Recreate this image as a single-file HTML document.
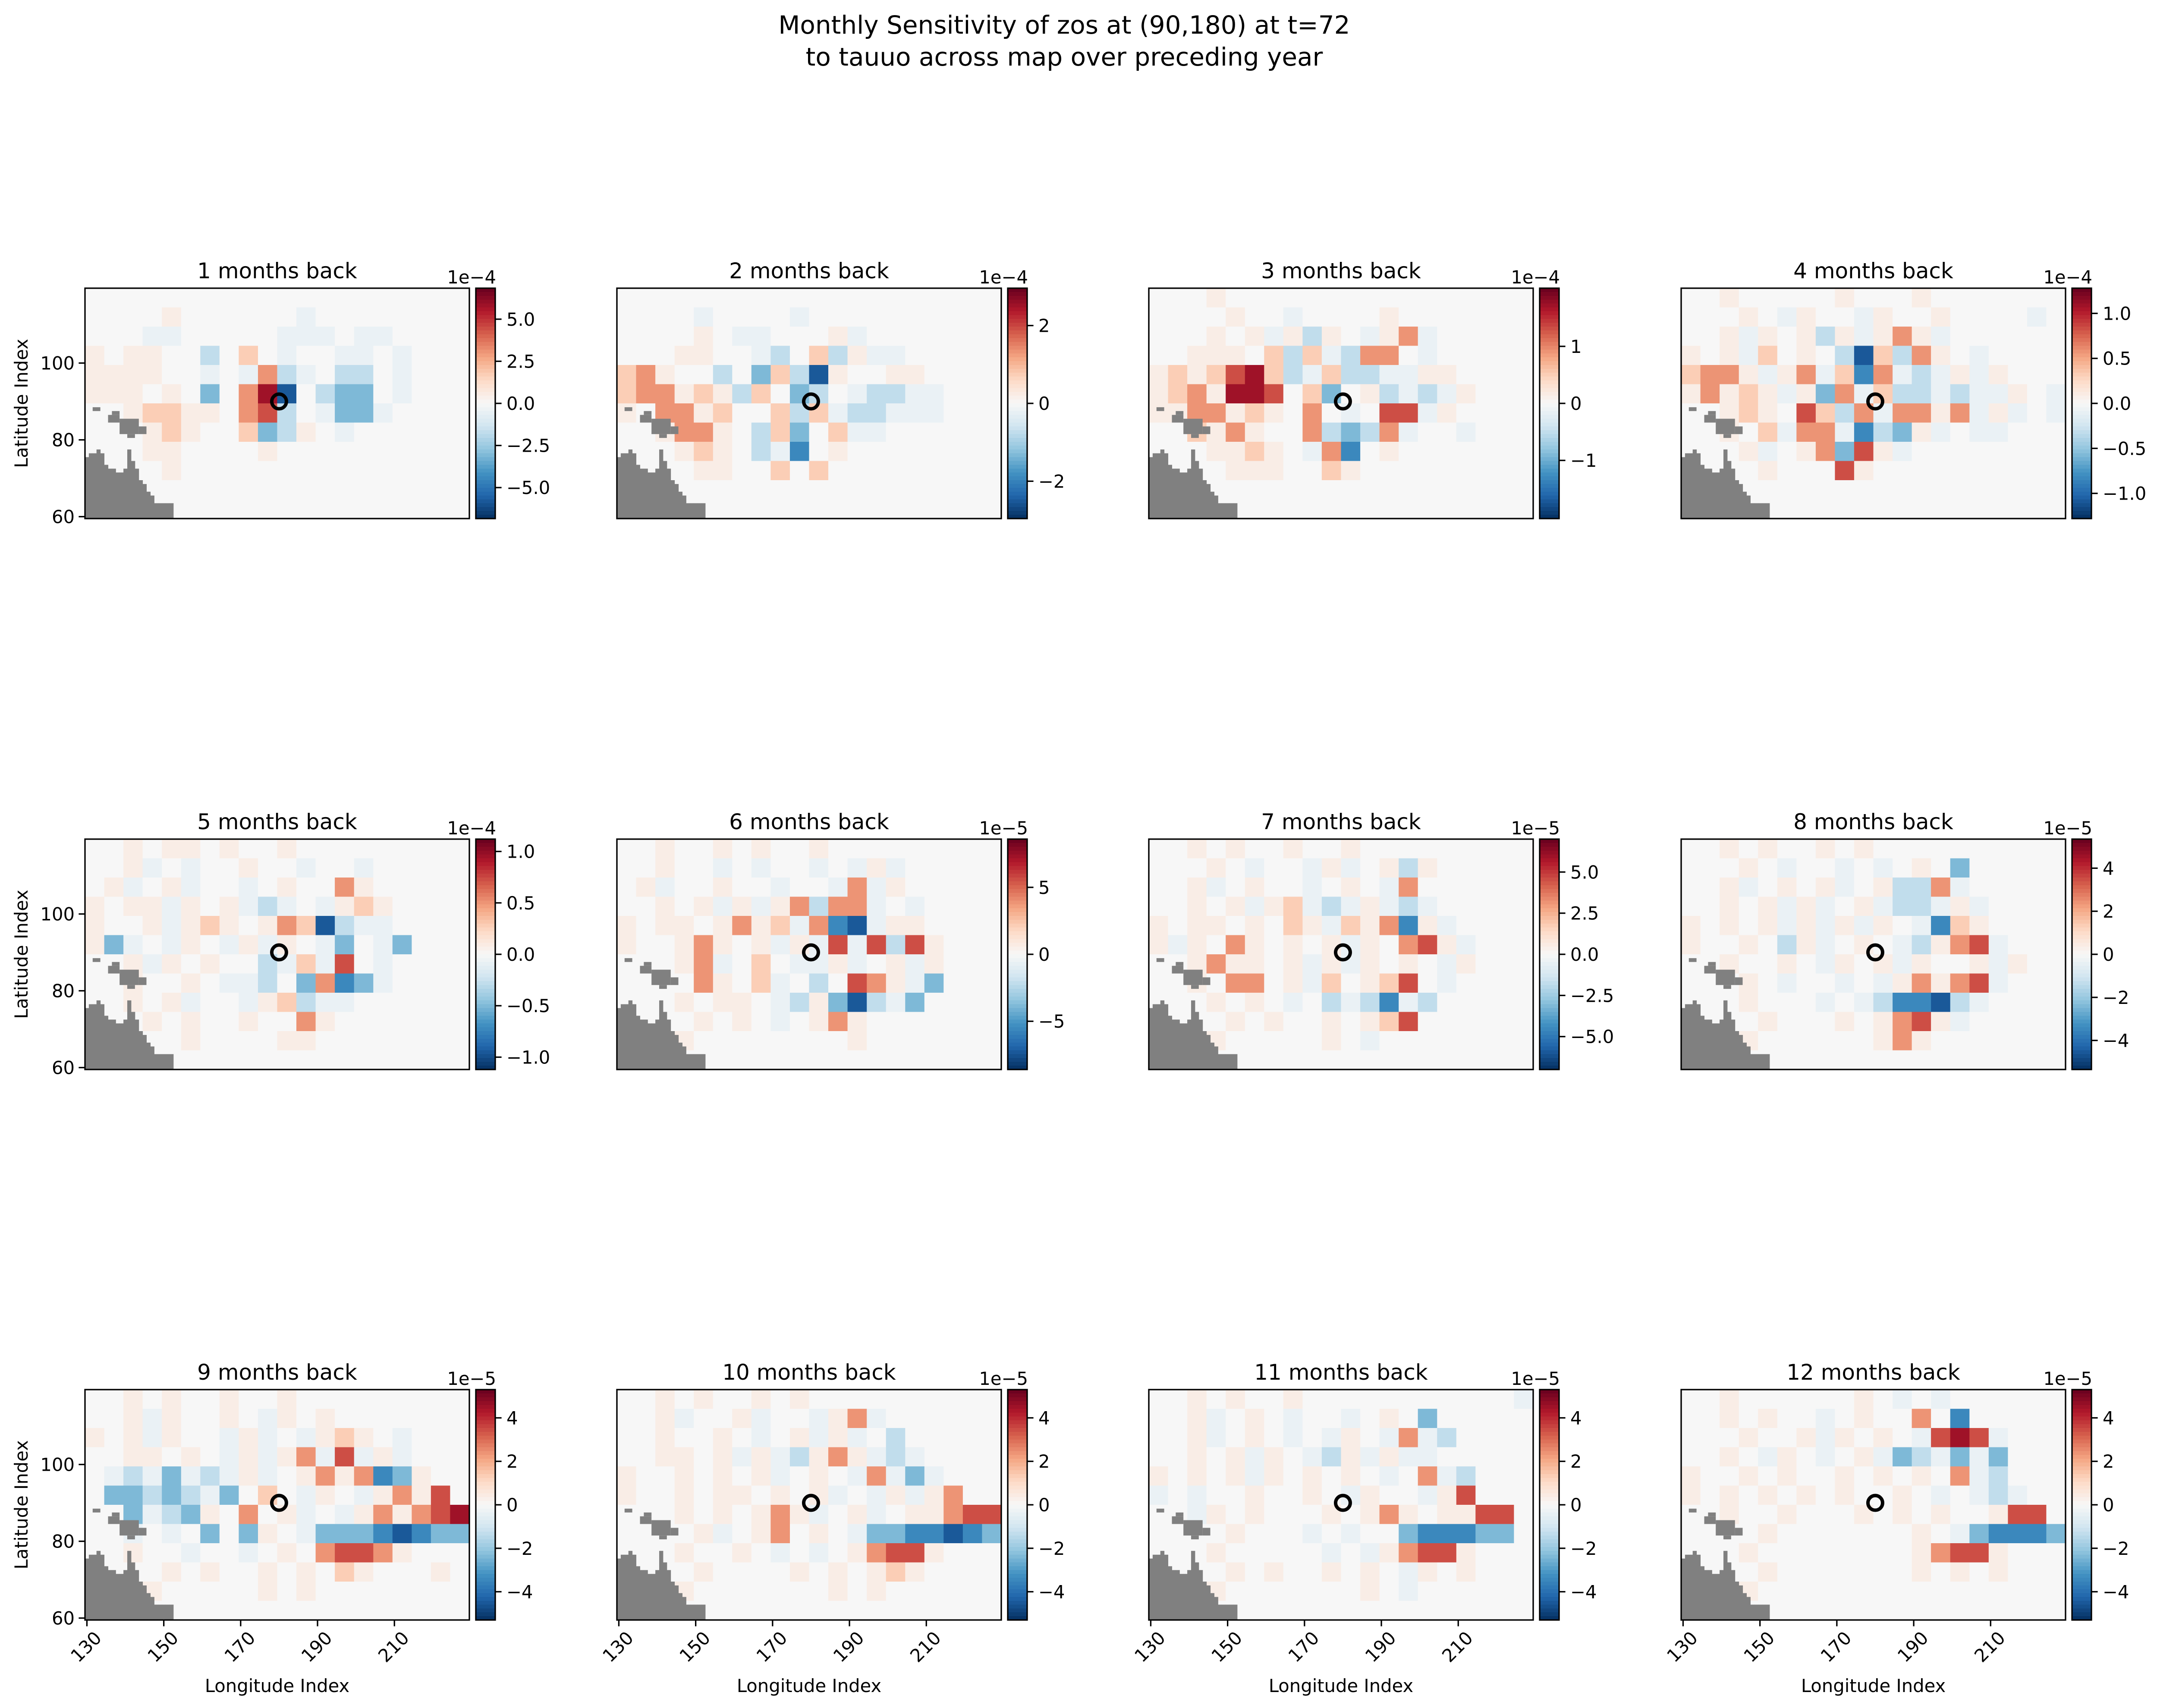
<!DOCTYPE html>
<html><head><meta charset="utf-8">
<style>
html,body{margin:0;padding:0;background:#fff;}
svg{display:block;font-family:"DejaVu Sans","Liberation Sans",sans-serif;}
</style></head>
<body>
<svg id="fig" xmlns="http://www.w3.org/2000/svg" width="5007" height="3959" viewBox="0 0 5007 3959">
<rect x="0" y="0" width="5007" height="3959" fill="#ffffff"/>
<text x="2467" y="78" font-size="58" text-anchor="middle">Monthly Sensitivity of zos at (90,180) at t=72</text>
<text x="2467" y="152" font-size="58" text-anchor="middle">to tauuo across map over preceding year</text>
<g id="panels"></g>
</svg>
<script>
// ---- data ----
const panelTitles = ["1 months back","2 months back","3 months back","4 months back","5 months back","6 months back","7 months back","8 months back","9 months back","10 months back","11 months back","12 months back"];
const panelVmax = [6.84,2.96,2.02,1.28,1.12,8.6,7.0,5.35,5.3,5.3,5.3,5.3];
const panelExponent = ["1e\u22124","1e\u22124","1e\u22124","1e\u22124","1e\u22124","1e\u22125","1e\u22125","1e\u22125","1e\u22125","1e\u22125","1e\u22125","1e\u22125"];
const cbarTicks = [
 [-5,-2.5,0,2.5,5],[-2,0,2],[-1,0,1],[-1,-0.5,0,0.5,1],
 [-1,-0.5,0,0.5,1],[-5,0,5],[-5,-2.5,0,2.5,5],[-4,-2,0,2,4],
 [-4,-2,0,2,4],[-4,-2,0,2,4],[-4,-2,0,2,4],[-4,-2,0,2,4]];
const cbarTickDecimals = [1,0,0,1,1,0,1,0,0,0,0,0];
const lonTicks = [130,150,170,190,210];
const latTicks = [60,80,100];
const targetPoint = [180,90];
// coarse field codes: 12 rows (lat 115..60 descending) x 20 cols (lon 130..225), 5x5 blocks
const codeValues = {"a":-0.85,"b":-0.65,"c":-0.45,"d":-0.25,"-":-0.07,".":0,"+":0.07,"1":0.25,"2":0.45,"3":0.65,"4":0.85};
const fields = [
["....................","....+......-........","...--.....---.--....","+.++..d.1.-..--.-...","++++..-.-2d-.dd.-...","+++.+.c.24a.dcc.-...","..+11++.23d.-cc-....","...+1+..1cd+.-......","...++....+..........","....+...............","....................","...................."],
["....................","....-....-..........","....+.--...+-.......","...++..-d.1d+--.....","12+..d.c1da+..++....","122+1+d1.cd.-dd--...","+.22+1..1d1-dd---...","..+22+.d1c.1--......","...+1+.d-b.+........","....++..1.1.........","....................","...................."],
["...+................","....+..-....+.......","...+.+-+d+.-+2-.....","..+++.1d1-d22.-.....","+1+1341d-1dd--++....","+12+443.1c.+d-d-+...","++22+1+.2.-.33-+....","..1+2+..2dcd2-..-...","...++1+.-2b.+.......","....+++..1+.........","....................","...................."],
["..+.....+...+.......","...+.-+..-+..+....-.","..+-+.+d+-+2+-......","+.+-1.+.da1d2+.-....","122+-+2-1b2-d-+-+...","+2+1+-+c2-1dd-d--+.-","..+1+.31d2-22+2-+-.-","..+.1-22-bdc+-.--...","...+-.+2c3+-........","....+...3+..........","....................","...................."],
["..+.++.+..+.........","..+-.-..+..-..-.....",".+-.+-..-.+..2+.....","+.++-+.+-d-.-+1+....","+..+-+1+.+21ad--....","+c-.-+.-+-+.-c.-c...","..+-+.+..d-1-3.-....","..+..+.--d.c2bc-....","..+.+-..-+1d--......","...+.+..+..2+.......","..+..+....++........","...................."],
["..+..+.+..+.........","..+..-.-..-.-+-.....",".+-..+..-..-2-+.....","..+.+-+-+2d22-.-....","+.++.+2+1-2ba-++....","+..+2+.+-+-3-3d3+...","...+2-.1.--+-.+-+...","....2+.1-.d.32+-c...","...+.++.-d+cad-c....","....+.+.-.+2+.......","...+........+.......","...................."],
["..+.+..+..+.........","...+.-..-+-.+d+.....","..+-.+..-.+.-2......","..+.+-+1-d-+-d-.....","+.++.+.1+-1+2b+-....","+-+.2+.+.+-+.23+-...","..+2++.+-+-+.+.-+...","..+.22.+-1.+13.-....","...+.+.-.d-db-d.....","....+.+..+.+13......","...+.....+.-........","...................."],
["..+.+..+.+..........","...+.-..-.-.+.c.....","..+-.+.+-.+dd2-.....","..+.+-+-.+-dd-+-....","+.+.+-+-+-+.-b1+....","+..+.d+-.+.-d+23-...","..+..+.-+.+-+..+-+..","...+.-..-.-+2+23-...","...+...-.-dbbad-....","....+...+.+23+-.....","...+......+2+.......","...................."],
["..+.+..+..+.........","..+-+..+.-+.+.......","+.+-+..-+-.-+1+.-...","..++.+.-+-+2-3-+-...",".-d-c-d-+-.+2+2bc+..",".ccdcd-c.1.-+.-+2+3.","..c-dc+.2.+-.-+2+234","..-.-.c.c+.-cccbabcc","..+..-..-.+.2332+...","....+.+..+.+.1+...+.","...+.....+.+........","...................."],
["..+.+..+.+..........","..+-..+-..-+2-......","..+..+.-.+-+-.d.....","..++.+-+-d+2+-d-....","+..+.+.+-.+.-2-c-...","+..+.++.+.+-.-+-+2..","...+.+.+2+-.+-.++233","....+-.+2.+.-ccbbabc","...+..+.-.-.+233+...","....+....+.+.+1+....","...+.......+.+......","...................."],
["..+.+..+...........-","..+-.+.-..-.+.c.....","..+-.+.-.-+.-2-d....","..+.+-+.-d+-+--.....","+.+.+-+.+.+.-.2-d...","-.-..+..+.-+..-+3...","..-+.+...+.+2+.++33.","....+...-.-..cbbbcc.","...+.....-.-+233+...","....+.+..+.+.-+.+...","...+.......+.-......","...................."],
["..+......+.-.-......","..+.+..-.+..2.b.....","...+..+-+.+.-343-...","..+.-+.-.+-cd-c-c...","+..+.+..+.+.+.2-d...","+.+.+.+.+..+.-.-d-..","..+..+...+.+.+..+33.","....+.......+.-cbbbc","...+........+233+...","....+.......+.+.+...","...+................","...................."]
];
// land mask: per-longitude top latitude of mainland (lat 60 upward), lon 130..152
const landLon = [130,131,132,133,134,135,136,137,138,139,140,141,142,143,144,145,146,147,148,149,150,151,152];
const landTop = [75,76,76,77,76,73,72,72,71,71,72,77,74,72,69,68,66,65,63,63,63,63,63];
// islands: [lon0, lon1, lat0, lat1]
const islands = [[132,133,88,88],[136,138,85,86],[137,138,87,87],[139,143,82,85],[141,142,81,81],[144,145,82,83]];
</script>
<script>
const NS="http://www.w3.org/2000/svg";
const root=document.getElementById('panels');
const colLeft=[197,1430,2663,3897];
const rowTop=[668,1945,3221];
const AW=891, AH=534;
const LON0=129.5, LON1=229.5, LAT0=59.5, LAT1=119.5;
const stops=["#053061","#2166ac","#4393c3","#92c5de","#d1e5f0","#f7f7f7","#fddbc7","#f4a582","#d6604d","#b2182b","#67001f"];
function hex(c){return [parseInt(c.slice(1,3),16),parseInt(c.slice(3,5),16),parseInt(c.slice(5,7),16)];}
function cmap(t){t=Math.max(0,Math.min(1,t));const p=t*10;const i=Math.min(9,Math.floor(p));const f=p-i;const a=hex(stops[i]),b=hex(stops[i+1]);return "rgb("+a.map((v,k)=>Math.round(v+(b[k]-v)*f)).join(",")+")";}
function mk(tag,attrs,parent){const e=document.createElementNS(NS,tag);for(const k in attrs)e.setAttribute(k,attrs[k]);(parent||root).appendChild(e);return e;}
function fmt(v,d){let s=Math.abs(v).toFixed(d);return (v<0?"\u2212":"")+s;}

for(let p=0;p<12;p++){
  const r=Math.floor(p/4), c=p%4;
  const L=colLeft[c], T=rowTop[r];
  const xs=lon=>L+(lon-LON0)/(LON1-LON0)*AW;
  const ys=lat=>T+(LAT1-lat)/(LAT1-LAT0)*AH;
  const g=mk('g',{});
  
  
  const vmax=panelVmax[p];
  const hm=mk('g',{},g);
  
  
  const rows=fields[p];
  for(let i=0;i<rows.length;i++){
    const latHi=119.5-i*5, latLo=latHi-5;
    for(let j=0;j<20;j++){
      const ch=rows[i][j]||'.';
      const val=(codeValues[ch]||0)*vmax;
      const lonLo=129.5+j*5;
      const cell=mk('rect',{x:xs(lonLo).toFixed(1),y:ys(latHi).toFixed(1),width:(xs(lonLo+5)-xs(lonLo)+0.6).toFixed(1),height:(ys(latLo)-ys(latHi)+0.6).toFixed(1),fill:cmap((val/vmax+1)/2)},hm);
      
      
    }
  }
  const land=mk('g',{fill:'#808080'},g);
  
  
  for(let k=0;k<landLon.length;k++){
    const lo=landLon[k];
    mk('rect',{x:xs(lo-0.5).toFixed(1),y:ys(landTop[k]+0.5).toFixed(1),width:(xs(lo+0.5)-xs(lo-0.5)+0.5).toFixed(1),height:(ys(LAT0)-ys(landTop[k]+0.5)).toFixed(1)},land);
  }
  for(const is of islands){
    mk('rect',{x:xs(is[0]-0.5).toFixed(1),y:ys(is[3]+0.5).toFixed(1),width:(xs(is[1]+0.5)-xs(is[0]-0.5)).toFixed(1),height:(ys(is[2]-0.5)-ys(is[3]+0.5)).toFixed(1)},land);
  }
  const mkr=mk('circle',{cx:xs(targetPoint[0]),cy:ys(targetPoint[1]),r:17,fill:'none',stroke:'#000','stroke-width':8},g);
  
  
  const fr=mk('rect',{x:L,y:T,width:AW,height:AH,fill:'none',stroke:'#000','stroke-width':3.3},g);
  
  
  const tt=mk('text',{x:L+AW/2,y:T-23,'font-size':50,'text-anchor':'middle'},g);
  tt.textContent=panelTitles[p];
  
  
  if(c===0){
    for(const lt of latTicks){
      const y=ys(lt);
      mk('line',{x1:L-14.6,x2:L,y1:y,y2:y,stroke:'#000','stroke-width':3.3},g);
      const t=mk('text',{x:L-24,y:y+15,'font-size':41.7,'text-anchor':'end'},g);
      t.textContent=lt;
      
      
    }
    const yl=mk('text',{x:0,y:0,'font-size':41.7,'text-anchor':'middle',transform:'translate(64,'+(T+AH/2)+') rotate(-90)'},g);
    yl.textContent='Latitude Index';
    
    
  }
  if(r===2){
    for(const ln of lonTicks){
      const x=xs(ln);
      mk('line',{x1:x,x2:x,y1:T+AH,y2:T+AH+14.6,stroke:'#000','stroke-width':3.3},g);
      const t=mk('text',{x:0,y:0,'font-size':41.7,'text-anchor':'middle',transform:'translate('+(x-2)+','+(T+AH+62)+') rotate(-45)',dy:'0.35em'},g);
      t.textContent=ln;
      
      
    }
    const xl=mk('text',{x:L+AW/2,y:T+AH+167,'font-size':41.7,'text-anchor':'middle'},g);
    xl.textContent='Longitude Index';
    
    
  }
  const cbx=L+906, cbw=45;
  const cb=mk('g',{},g);
  
  
  const nseg=60;
  for(let s=0;s<nseg;s++){
    mk('rect',{x:cbx,y:(T+AH*s/nseg).toFixed(1),width:cbw,height:(AH/nseg+0.8).toFixed(1),fill:cmap(1-(s+0.5)/nseg)},cb);
  }
  mk('rect',{x:cbx,y:T,width:cbw,height:AH,fill:'none',stroke:'#000','stroke-width':3.3},cb);
  for(const tv of cbarTicks[p]){
    const y=T+AH/2-(tv/vmax)*AH/2;
    mk('line',{x1:cbx+cbw,x2:cbx+cbw+14.6,y1:y,y2:y,stroke:'#000','stroke-width':3.3},cb);
    const t=mk('text',{x:cbx+cbw+26,y:y+15,'font-size':41.7},cb);
    t.textContent=fmt(tv,cbarTickDecimals[p]);
    
    
  }
  const ex=mk('text',{x:cbx+cbw+2,y:T-11,'font-size':41.7,'text-anchor':'end'},cb);
  ex.textContent=panelExponent[p];
  
  
}
</script>
</body></html>
